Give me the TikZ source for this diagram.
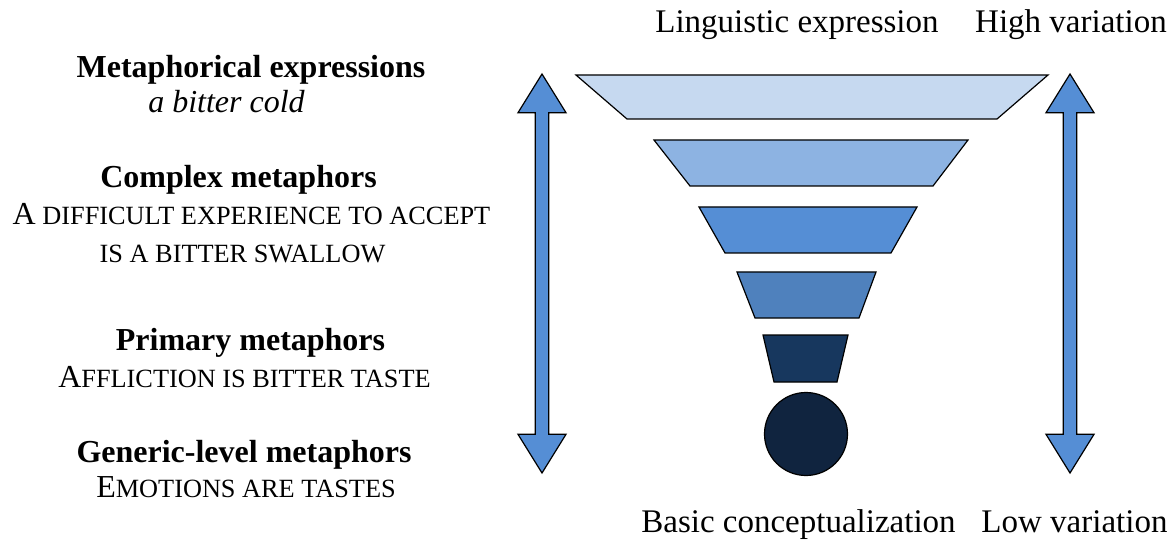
\documentclass[tikz,border=0pt]{standalone}
\usepackage{fontspec}
\setmainfont{Liberation Serif}
\definecolor{tierA}{HTML}{C6D9F0}
\definecolor{tierB}{HTML}{8DB3E2}
\definecolor{tierC}{HTML}{558ED5}
\definecolor{tierD}{HTML}{4F81BD}
\definecolor{tierE}{HTML}{17375E}
\definecolor{tierF}{HTML}{10243F}
\definecolor{arrowblue}{HTML}{558ED5}
\newcommand\fsc[1]{{\fontsize{26.3}{30}\selectfont #1}}
\newcommand\dblarrow[1]{%
  \draw[arrowbody] (#1,74) -- (#1+24,112.7) -- (#1+6.75,112.7) -- (#1+6.75,434.3)
    -- (#1+24,434.3) -- (#1,473) -- (#1-24,434.3) -- (#1-6.75,434.3)
    -- (#1-6.75,112.7) -- (#1-24,112.7) -- cycle;}
\begin{document}
\begin{tikzpicture}[x=1pt,y=-1pt,
  tier/.style={draw=black, line width=1.2pt, line join=miter},
  arrowbody/.style={fill=arrowblue, draw=black, line width=1.2pt, line join=miter},
  lbl/.style={anchor=base, inner sep=0pt, font=\fontsize{32}{36}\selectfont},
  head/.style={lbl, font=\fontsize{32}{36}\selectfont\bfseries},
  side/.style={anchor=base, inner sep=0pt, font=\fontsize{33}{36}\selectfont}]
\useasboundingbox (0,0) rectangle (1173,540);
% funnel tiers
\draw[tier, fill=tierA] (576,75) -- (1048,75) -- (997,119) -- (627,119) -- cycle;
\draw[tier, fill=tierB] (654,140) -- (968,140) -- (933,186) -- (690,186) -- cycle;
\draw[tier, fill=tierC] (699,207) -- (917,207) -- (891,253) -- (725,253) -- cycle;
\draw[tier, fill=tierD] (737,272) -- (876,272) -- (859,318) -- (755,318) -- cycle;
\draw[tier, fill=tierE] (763,335) -- (848,335) -- (837,382) -- (774,382) -- cycle;
\draw[tier, fill=tierF] (806,434) circle[radius=41.5];
% arrows
\dblarrow{542}
\dblarrow{1070}
% top and bottom labels
\node[side] (ling) at (797,33) {Linguistic expression};
\node[side] (high) at (1071,33) {High variation};
\node[side] (basic) at (798.5,532) {Basic conceptualization};
\node[side] (low) at (1074.5,532) {Low variation};
% left labels
\node[head] (mexp) at (251,78) {Metaphorical expressions};
\node[lbl, font=\fontsize{32}{36}\selectfont\itshape] (mexpx) at (226.5,113) {a bitter cold};
\node[head] (cmet) at (238.5,188) {Complex metaphors};
\node[lbl] (cmetx1) at (251.5,225) {A\fsc{ DIFFICULT EXPERIENCE TO ACCEPT}};
\node[lbl] (cmetx2) at (242.5,262) {\fsc{IS A BITTER SWALLOW}};
\node[head] (pmet) at (250.5,350) {Primary metaphors};
\node[lbl] (pmetx) at (244.5,387) {A\fsc{FFLICTION IS BITTER TASTE}};
\node[head] (gmet) at (244,462) {Generic-level metaphors};
\node[lbl] (gmetx) at (246,497) {E\fsc{MOTIONS ARE TASTES}};
\end{tikzpicture}
\end{document}
